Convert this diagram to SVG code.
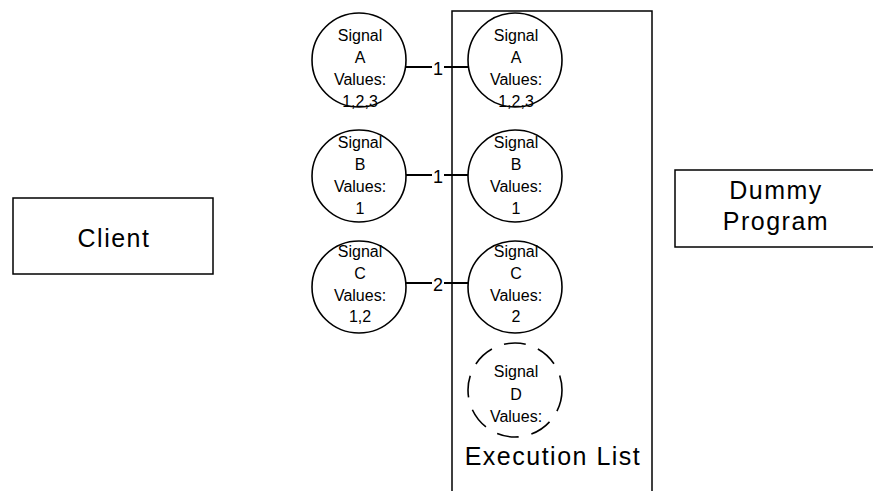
<svg xmlns="http://www.w3.org/2000/svg" width="873" height="491" viewBox="0 0 873 491">
  <style>
    .box { fill: #ffffff; stroke: #000000; stroke-width: 1.5; }
    .sig { fill: #ffffff; stroke: #000000; stroke-width: 1.6; }
    .pending { fill: none; stroke: #000000; stroke-width: 1.6; stroke-dasharray: 22 13; }
    .small { font-family: "Liberation Sans", Arial, sans-serif; font-size: 16px; fill: #000000; text-anchor: middle; }
    .big { font-family: "Liberation Sans", Arial, sans-serif; font-size: 25px; fill: #000000; text-anchor: middle; letter-spacing: 1.5px; }
    .num { font-family: "Liberation Sans", Arial, sans-serif; font-size: 18px; fill: #000000; text-anchor: middle; }
    .link { stroke: #000000; stroke-width: 2; fill: none; }
  </style>

  <!-- Execution list container (runs past the bottom edge) -->
  <g id="execution-list">
    <rect class="box" x="452" y="11" width="200" height="500"/>
    <text class="big" x="553" y="465">Execution List</text>
  </g>

  <!-- Client -->
  <g id="client">
    <rect class="box" x="13" y="198" width="200" height="76"/>
    <text class="big" x="114" y="247">Client</text>
  </g>

  <!-- Dummy Program -->
  <g id="dummy-program">
    <rect class="box" x="675" y="170" width="200" height="77"/>
    <text class="big" x="776" y="199">Dummy</text>
    <text class="big" x="776" y="230">Program</text>
  </g>

  <!-- Connectors with counts -->
  <g id="connectors">
    <line class="link" x1="406" y1="67" x2="432" y2="67"/>
    <line class="link" x1="444" y1="67" x2="469" y2="67"/>
    <text class="num" x="438" y="75">1</text>

    <line class="link" x1="406" y1="175" x2="432" y2="175"/>
    <line class="link" x1="444" y1="175" x2="469" y2="175"/>
    <text class="num" x="438" y="183">1</text>

    <line class="link" x1="406" y1="283" x2="432" y2="283"/>
    <line class="link" x1="444" y1="283" x2="469" y2="283"/>
    <text class="num" x="438" y="291">2</text>
  </g>

  <!-- Client-side signals -->
  <g id="client-signal-a">
    <ellipse class="sig" cx="359" cy="60" rx="47" ry="47"/>
    <text class="small" x="360" y="41">Signal</text>
    <text class="small" x="360" y="63">A</text>
    <text class="small" x="360" y="85">Values:</text>
    <text class="small" x="360" y="107">1,2,3</text>
  </g>
  <g id="client-signal-b">
    <ellipse class="sig" cx="359" cy="176" rx="47" ry="46"/>
    <text class="small" x="360" y="148">Signal</text>
    <text class="small" x="360" y="170">B</text>
    <text class="small" x="360" y="192">Values:</text>
    <text class="small" x="360" y="214">1</text>
  </g>
  <g id="client-signal-c">
    <ellipse class="sig" cx="359" cy="287" rx="47" ry="46"/>
    <text class="small" x="360" y="257">Signal</text>
    <text class="small" x="360" y="279">C</text>
    <text class="small" x="360" y="301">Values:</text>
    <text class="small" x="360" y="322">1,2</text>
  </g>

  <!-- Signals in the execution list -->
  <g id="exec-signal-a">
    <ellipse class="sig" cx="515" cy="60" rx="47" ry="47"/>
    <text class="small" x="516" y="41">Signal</text>
    <text class="small" x="516" y="63">A</text>
    <text class="small" x="516" y="85">Values:</text>
    <text class="small" x="516" y="107">1,2,3</text>
  </g>
  <g id="exec-signal-b">
    <ellipse class="sig" cx="515" cy="176" rx="47" ry="46"/>
    <text class="small" x="516" y="148">Signal</text>
    <text class="small" x="516" y="170">B</text>
    <text class="small" x="516" y="192">Values:</text>
    <text class="small" x="516" y="214">1</text>
  </g>
  <g id="exec-signal-c">
    <ellipse class="sig" cx="515" cy="287" rx="47" ry="46"/>
    <text class="small" x="516" y="257">Signal</text>
    <text class="small" x="516" y="279">C</text>
    <text class="small" x="516" y="301">Values:</text>
    <text class="small" x="516" y="322">2</text>
  </g>
  <g id="exec-signal-d">
    <ellipse class="pending" cx="515" cy="390" rx="47" ry="47"/>
    <text class="small" x="516" y="377">Signal</text>
    <text class="small" x="516" y="400">D</text>
    <text class="small" x="516" y="422">Values:</text>
  </g>
</svg>
